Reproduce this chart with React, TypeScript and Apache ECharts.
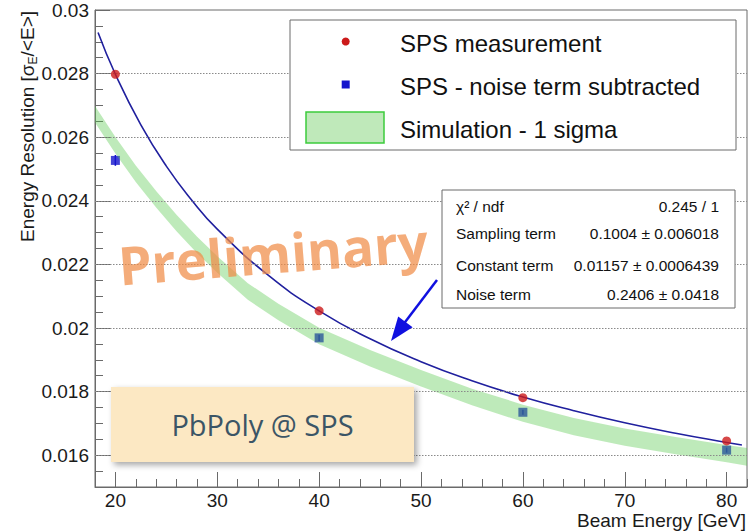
import React, { useEffect, useRef } from "react";
import * as echarts from "echarts";

// Axis ticks
const xTicks = [20, 30, 40, 50, 60, 70, 80];
const yTicks = [0.016, 0.018, 0.02, 0.022, 0.024, 0.026, 0.028, 0.03];
const yTickLabels = ["0.016", "0.018", "0.02", "0.022", "0.024", "0.026", "0.028", "0.03"];

// SPS beam test points
const beamEnergy = [20, 40, 60, 80];
const spsMeasured = [0.02798, 0.02054, 0.01781, 0.01645];
const spsNoiseSubtracted = [0.02527, 0.01969, 0.01735, 0.01616];
const noiseSubtractedErr = [0.00017, 0.0001, 0.00008, 0.00008];

// Fitted resolution curve
const fitEnergy = [18.3, 20, 22.5, 25, 27.5, 30, 35, 40, 45, 50, 55, 60, 65, 70, 75, 80, 81.5];
const fitResolution = [
  0.02929, 0.02798, 0.02639, 0.02509, 0.02402, 0.02311, 0.02166, 0.02054, 0.01966,
  0.01894, 0.01834, 0.01783, 0.0174, 0.01702, 0.01669, 0.0164, 0.01632,
];

// Simulation band (mean +- 1 sigma)
const simEnergy = [18, 20, 22, 24, 26, 28, 30, 33, 36, 40, 45, 50, 55, 60, 65, 70, 75, 80, 82];
const simMean = [
  0.02672, 0.02575, 0.02485, 0.02405, 0.0233, 0.02262, 0.022, 0.02115, 0.0205, 0.01975,
  0.01905, 0.01842, 0.01783, 0.01732, 0.0169, 0.01657, 0.0163, 0.01605, 0.01595,
];
const simSigma = [
  0.00026, 0.00026, 0.00026, 0.00026, 0.00026, 0.00026, 0.00026, 0.00026, 0.00026, 0.00026,
  0.00026, 0.00026, 0.00026, 0.00027, 0.00027, 0.00027, 0.00027, 0.00027, 0.00028,
];

// Fit parameter box
const statRows = [
  ["\u03c7\u00b2 / ndf", "0.245 / 1"],
  ["Sampling term", "0.1004 \u00b1 0.006018"],
  ["Constant term", "0.01157 \u00b1 0.0006439"],
  ["Noise term", "0.2406 \u00b1 0.0418"],
];

const legendLabels = ["SPS measurement", "SPS - noise term subtracted", "Simulation - 1 sigma"];

const FONT = '"Liberation Sans", Arial, Helvetica, sans-serif';
const AXIS_COLOR = "#6a6a6a";
const RED = "#cc1a1a";
const BLUE = "#1414cc";
const FIT_BLUE = "#20209e";
const BAND_FILL = "rgba(84,200,73,0.38)";
const TOP_Z = 100;

function buildOption(): echarts.EChartsOption {
  const axisLabelStyle = { fontFamily: FONT, fontSize: 19, color: "#1a1a1a" };
  return {
    animation: false,
    grid: {
      left: 95,
      right: 9,
      top: 10,
      bottom: 44,
      show: true,
      borderColor: AXIS_COLOR,
      borderWidth: 1,
      backgroundColor: "transparent",
    },
    xAxis: [
      {
        type: "value",
        min: 18,
        max: 82,
        position: "bottom",
        axisLine: { show: true, onZero: false, lineStyle: { color: AXIS_COLOR, width: 1 } },
        axisTick: {
          show: true,
          inside: true,
          length: 15,
          customValues: xTicks,
          lineStyle: { color: AXIS_COLOR, width: 1 },
        },
        axisLabel: { customValues: xTicks, margin: 4, ...axisLabelStyle },
        splitLine: { show: false },
      },
      {
        type: "value",
        min: 18,
        max: 82,
        interval: 2,
        position: "bottom",
        axisLine: { show: false, onZero: false },
        axisTick: { show: true, inside: true, length: 8, lineStyle: { color: AXIS_COLOR, width: 1 } },
        axisLabel: { show: false },
        splitLine: { show: false },
      },
    ],
    yAxis: [
      {
        type: "value",
        min: 0.015,
        max: 0.03,
        position: "left",
        axisLine: { show: true, onZero: false, lineStyle: { color: AXIS_COLOR, width: 1 } },
        axisTick: {
          show: true,
          inside: true,
          length: 15,
          customValues: yTicks,
          lineStyle: { color: AXIS_COLOR, width: 1 },
        },
        axisLabel: {
          customValues: yTicks,
          margin: 6,
          formatter: (v: number) => {
            const i = yTicks.findIndex((t) => Math.abs(t - v) < 1e-9);
            return i >= 0 ? yTickLabels[i] : "";
          },
          ...axisLabelStyle,
        },
        splitLine: { show: false },
      },
      {
        type: "value",
        min: 0.015,
        max: 0.03,
        interval: 0.0005,
        position: "left",
        axisLine: { show: false, onZero: false },
        axisTick: { show: true, inside: true, length: 8, lineStyle: { color: AXIS_COLOR, width: 1 } },
        axisLabel: { show: false },
        splitLine: { show: false },
      },
    ],
    series: [
      {
        // horizontal dotted grid at the major y ticks
        type: "line",
        silent: true,
        z: 0,
        data: [],
        markLine: {
          silent: true,
          precision: 6,
          symbol: ["none", "none"],
          label: { show: false },
          lineStyle: { type: [1.5, 1.5], color: "#8a8a8a", width: 1 },
          data: yTicks.slice(0, -1).map((v) => ({ yAxis: v })),
        },
      },
      {
        // error bars of the noise-subtracted points
        type: "custom",
        silent: true,
        z: 1,
        data: beamEnergy.map((e, i) => [e, spsNoiseSubtracted[i], noiseSubtractedErr[i]]),
        renderItem: (params: any, api: any) => {
          const x = api.value(0);
          const y = api.value(1);
          const err = api.value(2);
          const top = api.coord([x, y + err]);
          const bottom = api.coord([x, y - err]);
          return {
            type: "line",
            shape: { x1: top[0], y1: top[1], x2: bottom[0], y2: bottom[1] },
            style: { stroke: BLUE, lineWidth: 1.5 },
          };
        },
      },
      {
        name: legendLabels[1],
        type: "scatter",
        symbol: "rect",
        symbolSize: 9,
        z: 2,
        itemStyle: { color: BLUE },
        data: beamEnergy.map((e, i) => [e, spsNoiseSubtracted[i]]),
      },
      {
        name: legendLabels[2],
        type: "custom",
        silent: true,
        z: 3,
        data: simEnergy.map((e, i) => [e, simMean[i]]),
        renderItem: (params: any, api: any) => {
          if (params.dataIndex !== 0) return null;
          const upper = simEnergy.map((e, i) => api.coord([e, simMean[i] + simSigma[i]]));
          const lower = simEnergy.map((e, i) => api.coord([e, simMean[i] - simSigma[i]])).reverse();
          return {
            type: "polygon",
            shape: { points: upper.concat(lower) },
            style: { fill: BAND_FILL, stroke: "none" },
          };
        },
      },
      {
        name: "fit",
        type: "line",
        smooth: true,
        showSymbol: false,
        z: 4,
        lineStyle: { color: FIT_BLUE, width: 1.6 },
        data: fitEnergy.map((e, i) => [e, fitResolution[i]]),
      },
      {
        name: legendLabels[0],
        type: "scatter",
        symbol: "circle",
        symbolSize: 9,
        z: 5,
        itemStyle: { color: RED },
        data: beamEnergy.map((e, i) => [e, spsMeasured[i]]),
      },
    ],
    graphic: [
      // axis titles
      {
        type: "text",
        x: 27,
        y: 11,
        rotation: Math.PI / 2,
        z: TOP_Z,
        style: {
          text: "{a|Energy Resolution [\u03c3}{s|E}{a|/<E>]}",
          align: "right",
          verticalAlign: "middle",
          rich: {
            a: { fontFamily: FONT, fontSize: 19, fill: "#1a1a1a", lineHeight: 24 },
            s: { fontFamily: FONT, fontSize: 12, fill: "#1a1a1a", verticalAlign: "bottom" },
          },
        },
      },
      {
        type: "text",
        x: 746,
        y: 520,
        z: TOP_Z,
        style: {
          text: "Beam Energy [GeV]",
          align: "right",
          verticalAlign: "middle",
          fontFamily: FONT,
          fontSize: 19,
          fill: "#1a1a1a",
        },
      },
      // legend
      {
        type: "rect",
        z: TOP_Z,
        shape: { x: 290, y: 20, width: 446, height: 130 },
        style: { fill: "#ffffff", stroke: "#6a6a6a", lineWidth: 1 },
      },
      {
        type: "circle",
        z: TOP_Z + 1,
        shape: { cx: 345.7, cy: 41.5, r: 4 },
        style: { fill: RED },
      },
      {
        type: "rect",
        z: TOP_Z + 1,
        shape: { x: 341.7, y: 80.5, width: 8, height: 8 },
        style: { fill: BLUE },
      },
      {
        type: "rect",
        z: TOP_Z + 1,
        shape: { x: 306, y: 112, width: 78, height: 31 },
        style: { fill: "#bfe9ba", stroke: "#3ccc3c", lineWidth: 1.5 },
      },
      ...legendLabels.map((t, i) => ({
        type: "text",
        z: TOP_Z + 1,
        x: 400,
        y: [43.5, 86, 129][i],
        style: {
          text: t,
          align: "left",
          verticalAlign: "middle",
          fontFamily: FONT,
          fontSize: 24,
          fill: "#111111",
        },
      })),
      // fit parameter box
      {
        type: "rect",
        z: TOP_Z,
        shape: { x: 442, y: 190, width: 293, height: 118 },
        style: { fill: "#ffffff", stroke: "#6a6a6a", lineWidth: 1 },
      },
      ...statRows.flatMap((row, i) => {
        const y = [206, 233.5, 265, 294.5][i];
        return [
          {
            type: "text",
            z: TOP_Z + 1,
            x: 456,
            y,
            style: {
              text: row[0],
              align: "left",
              verticalAlign: "middle",
              fontFamily: FONT,
              fontSize: 15.5,
              fill: "#111111",
            },
          },
          {
            type: "text",
            z: TOP_Z + 1,
            x: 719,
            y,
            style: {
              text: row[1],
              align: "right",
              verticalAlign: "middle",
              fontFamily: FONT,
              fontSize: 15.5,
              fill: "#111111",
            },
          },
        ];
      }),
      // arrow pointing at the fit curve
      {
        type: "line",
        z: TOP_Z + 1,
        shape: { x1: 437, y1: 280, x2: 404, y2: 323.5 },
        style: { stroke: "#1010e0", lineWidth: 2.5 },
      },
      {
        type: "polygon",
        z: TOP_Z + 1,
        shape: {
          points: [
            [391, 341],
            [412.6, 327.3],
            [398.2, 316.4],
          ],
        },
        style: { fill: "#1010e0" },
      },
      // detector tag
      {
        type: "rect",
        z: TOP_Z,
        shape: { x: 111, y: 387, width: 303, height: 75 },
        style: {
          fill: "#fce8c3",
          shadowBlur: 6,
          shadowOffsetX: 3,
          shadowOffsetY: 3,
          shadowColor: "rgba(0,0,0,0.35)",
        },
      },
      {
        type: "text",
        z: TOP_Z + 1,
        x: 262.5,
        y: 424.5,
        style: {
          text: "PbPoly @ SPS",
          align: "center",
          verticalAlign: "middle",
          fontFamily: '"Open Sans", "Noto Sans", sans-serif',
          fontSize: 29,
          fill: "#3b5566",
        },
      },
      {
        type: "text",
        x: 273,
        y: 253,
        rotation: (4.5 * Math.PI) / 180,
        z: TOP_Z + 10,
        style: {
          text: "Preliminary",
          align: "center",
          verticalAlign: "middle",
          fontFamily: '"Open Sans", "Noto Sans", sans-serif',
          fontWeight: "bold",
          fontSize: 53,
          fill: "rgba(240,140,70,0.72)",
        },
      },
    ],
  } as echarts.EChartsOption;
}

export default function App() {
  const ref = useRef<HTMLDivElement>(null);
  useEffect(() => {
    document.body.style.margin = "0";
    const chart = echarts.init(ref.current!, null, { renderer: "svg" });
    chart.setOption(buildOption());
    return () => chart.dispose();
  }, []);
  return <div ref={ref} style={{ width: 756, height: 531 }} />;
}
